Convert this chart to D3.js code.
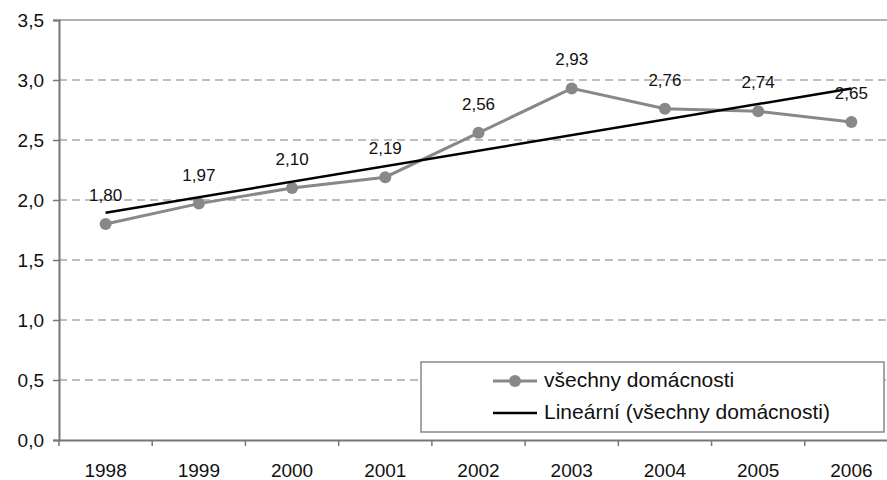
<!DOCTYPE html>
<html><head><meta charset="utf-8">
<script src="https://cdn.jsdelivr.net/npm/d3@7"></script>
<style>body{margin:0;background:#fff}svg{display:block}text{font-family:"Liberation Sans",Arial,sans-serif;fill:#111}</style>
</head><body>
<svg id="c" width="887" height="480"></svg>
<script>
const years = ["1998","1999","2000","2001","2002","2003","2004","2005","2006"];
const values = [1.80, 1.97, 2.10, 2.19, 2.56, 2.93, 2.76, 2.74, 2.65];
const yTicks = [0, 0.5, 1.0, 1.5, 2.0, 2.5, 3.0, 3.5];
const seriesName = "všechny domácnosti";
const trendName = "Lineární (všechny domácnosti)";

const svg = d3.select("#c");
const plotL = 59, plotT = 20, plotB = 440, plotR = 898;
const fmt = v => d3.format(".1f")(v).replace(".", ",");
const fmt2 = v => d3.format(".2f")(v).replace(".", ",");

const x = d3.scaleBand().domain(years).range([plotL, plotR]);
const y = d3.scaleLinear().domain([0, 3.5]).range([plotB, plotT]);
const cx = d => x(d) + x.bandwidth() / 2;

// horizontal gridlines
svg.append("g").selectAll("line").data(yTicks.filter(t => t > 0 && t < 3.5)).join("line")
  .attr("x1", plotL).attr("x2", 887).attr("y1", d => y(d)).attr("y2", d => y(d))
  .attr("stroke", "#a8a8a8").attr("stroke-width", 1.5).attr("stroke-dasharray", "8,5");
// top border of plot area
svg.append("line").attr("x1", plotL).attr("x2", 887).attr("y1", y(3.5)).attr("y2", y(3.5))
  .attr("stroke", "#999").attr("stroke-width", 1.5);

// y axis
const ya = svg.append("g").attr("transform", `translate(${plotL},0)`)
  .call(d3.axisLeft(y).tickValues(yTicks).tickFormat(fmt).tickSize(6).tickPadding(9));
ya.select(".domain").attr("stroke", "#777").attr("stroke-width", 2);
ya.selectAll(".tick line").attr("stroke", "#777").attr("stroke-width", 1.5);
ya.selectAll("text").attr("font-size", 19).attr("fill", "#111");

// x axis with ticks between categories
const xa = svg.append("g").attr("transform", `translate(0,${plotB})`)
  .call(d3.axisBottom(x).tickSize(0).tickPadding(24));
xa.select(".domain").attr("stroke", "#777").attr("stroke-width", 2);
xa.selectAll("text").attr("font-size", 19).attr("fill", "#111");
svg.append("g").selectAll("line").data(years).join("line")
  .attr("x1", d => x(d)).attr("x2", d => x(d)).attr("y1", plotB).attr("y2", plotB + 6)
  .attr("stroke", "#777").attr("stroke-width", 1.5);

// series line and markers
const line = d3.line().x((d, i) => cx(years[i])).y(d => y(d));
svg.append("path").datum(values).attr("d", line).attr("fill", "none")
  .attr("stroke", "#888").attr("stroke-width", 3);
svg.append("g").selectAll("circle").data(values).join("circle")
  .attr("cx", (d, i) => cx(years[i])).attr("cy", d => y(d)).attr("r", 6).attr("fill", "#888");

// least squares trend
const n = values.length, xs = d3.range(n);
const mx = d3.mean(xs), my = d3.mean(values);
const slope = d3.sum(xs, i => (i - mx) * (values[i] - my)) / d3.sum(xs, i => (i - mx) ** 2);
const icpt = my - slope * mx;
svg.append("line")
  .attr("x1", cx(years[0])).attr("y1", y(icpt))
  .attr("x2", cx(years[n - 1])).attr("y2", y(icpt + slope * (n - 1)))
  .attr("stroke", "#000").attr("stroke-width", 2.5);

// value labels
svg.append("g").selectAll("text").data(values).join("text")
  .attr("x", (d, i) => cx(years[i])).attr("y", d => y(d) - 23)
  .attr("text-anchor", "middle").attr("font-size", 17).text(fmt2);

// legend
const lg = svg.append("g");
lg.append("rect").attr("x", 421).attr("y", 362).attr("width", 463).attr("height", 70)
  .attr("fill", "#fff").attr("stroke", "#888").attr("stroke-width", 1.5);
lg.append("line").attr("x1", 493).attr("x2", 537).attr("y1", 381).attr("y2", 381)
  .attr("stroke", "#888").attr("stroke-width", 3);
lg.append("circle").attr("cx", 515).attr("cy", 381).attr("r", 6).attr("fill", "#888");
lg.append("line").attr("x1", 493).attr("x2", 537).attr("y1", 413).attr("y2", 413)
  .attr("stroke", "#000").attr("stroke-width", 2.5);
lg.append("text").attr("x", 544).attr("y", 387).attr("font-size", 21).text(seriesName);
lg.append("text").attr("x", 544).attr("y", 419).attr("font-size", 21).text(trendName);
</script>
</body></html>
